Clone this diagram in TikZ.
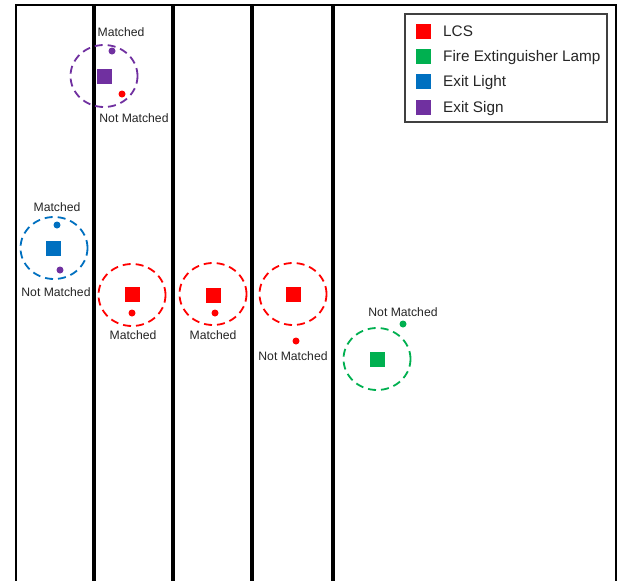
\documentclass[tikz,border=0pt]{standalone}
\usepackage{fontspec}
\setmainfont{Liberation Sans}
\usetikzlibrary{shapes.geometric}
\definecolor{lcsred}{HTML}{FF0000}
\definecolor{lampgreen}{HTML}{00B050}
\definecolor{exitblue}{HTML}{0070C0}
\definecolor{signpurple}{HTML}{7030A0}
\definecolor{txt}{HTML}{262626}
\definecolor{boxgray}{HTML}{404040}
\begin{document}
\begin{tikzpicture}[x=1pt,y=-1pt,
  ring/.style={ellipse, draw, dash pattern=on 8pt off 5pt, line width=1.8pt,
               minimum width=67pt, minimum height=62pt, inner sep=0},
  marker/.style={rectangle, fill, minimum size=15pt, inner sep=0},
  dot/.style={circle, fill, minimum size=7pt, inner sep=0},
  lbl/.style={font=\fontsize{12.2}{14}\selectfont, text=txt, inner sep=0},
  legtext/.style={font=\fontsize{15.3}{18}\selectfont, text=txt, inner sep=0, anchor=base west},
  wall/.style={line width=1.5pt},
  partition/.style={line width=4pt}]
\useasboundingbox (0,0) rectangle (630,581);
\fill[white] (0,0) rectangle (630,581);

% room outline and partitions
\draw[wall] (16,581) -- (16,5) -- (616,5) -- (616,581);
\foreach \x in {94,173,252,333}
  \draw[partition] (\x,5) -- (\x,581);

% exit sign (purple)
\node[ring, draw=signpurple] (r1) at (104,76) {};
\node[marker, fill=signpurple] (s1) at (104,76) {};
\node[dot, fill=signpurple] (d1a) at (112,51) {};
\node[dot, fill=lcsred] (d1b) at (122,94) {};
\node[lbl] (t1a) at (121,32) {Matched};
\node[lbl] (t1b) at (134,118) {Not Matched};

% exit light (blue)
\node[ring, draw=exitblue] (r2) at (54,248) {};
\node[marker, fill=exitblue] (s2) at (53,248) {};
\node[dot, fill=exitblue] (d2a) at (57,225) {};
\node[dot, fill=signpurple] (d2b) at (60,270) {};
\node[lbl] (t2a) at (57,207) {Matched};
\node[lbl] (t2b) at (56,292) {Not Matched};

% LCS units (red)
\node[ring, draw=lcsred] (r3) at (132,295) {};
\node[marker, fill=lcsred] (s3) at (132,294) {};
\node[dot, fill=lcsred] (d3) at (132,313) {};
\node[lbl] (t3) at (133,335) {Matched};

\node[ring, draw=lcsred] (r4) at (213,294) {};
\node[marker, fill=lcsred] (s4) at (213,295) {};
\node[dot, fill=lcsred] (d4) at (215,313) {};
\node[lbl] (t4) at (213,335) {Matched};

\node[ring, draw=lcsred] (r5) at (293,294) {};
\node[marker, fill=lcsred] (s5) at (293,294) {};
\node[dot, fill=lcsred] (d5) at (296,341) {};
\node[lbl] (t5) at (293,356) {Not Matched};

% fire extinguisher lamp (green)
\node[ring, draw=lampgreen] (r6) at (377,359) {};
\node[marker, fill=lampgreen] (s6) at (377,359) {};
\node[dot, fill=lampgreen] (d6) at (403,324) {};
\node[lbl] (t6) at (403,312) {Not Matched};

% legend
\draw[draw=boxgray, line width=1.3pt, fill=white] (405,14) rectangle (607,122);
\node[marker, fill=lcsred] (k1) at (423,31) {};
\node[marker, fill=lampgreen] (k2) at (423,56) {};
\node[marker, fill=exitblue] (k3) at (423,81) {};
\node[marker, fill=signpurple] (k4) at (423,107) {};
\node[legtext] (l1) at (443,36.5) {LCS};
\node[legtext] (l2) at (443,61.5) {Fire Extinguisher Lamp};
\node[legtext] (l3) at (443,86.5) {Exit Light};
\node[legtext] (l4) at (443,112.5) {Exit Sign};
\end{tikzpicture}
\end{document}
